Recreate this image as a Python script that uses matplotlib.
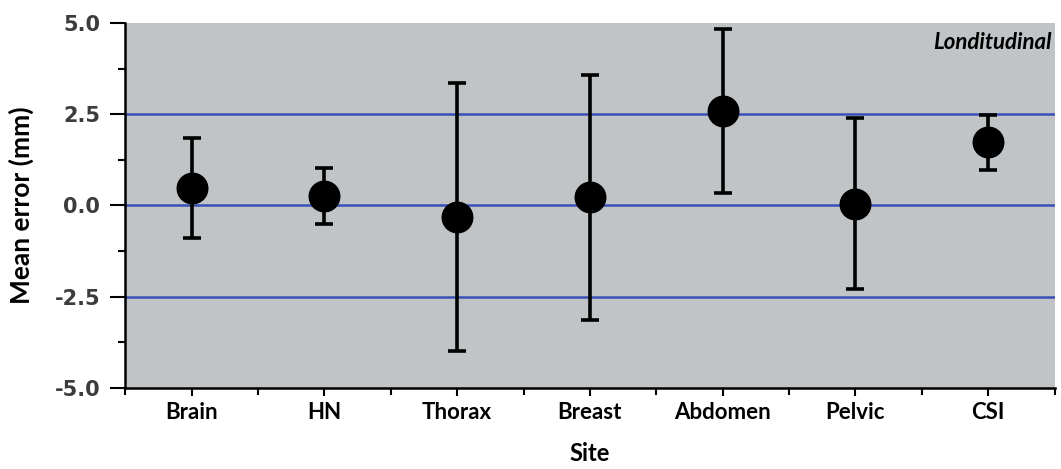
import matplotlib
matplotlib.use("Agg")
import matplotlib.pyplot as plt
from matplotlib.ticker import MultipleLocator

sites = ["Brain", "HN", "Thorax", "Breast", "Abdomen", "Pelvic", "CSI"]
mean_err = [0.49, 0.25, -0.33, 0.22, 2.58, 0.05, 1.73]
upper = [1.84, 1.02, 3.35, 3.57, 4.84, 2.39, 2.47]
lower = [-0.88, -0.52, -3.98, -3.13, 0.33, -2.28, 0.96]
ref_lines = [-2.5, 0.0, 2.5]

x = list(range(1, len(sites) + 1))
yerr = [[m - lo for m, lo in zip(mean_err, lower)],
        [up - m for m, up in zip(mean_err, upper)]]

fig = plt.figure(figsize=(10.61, 4.69), dpi=100)
ax = fig.add_axes([0.118, 0.173, 0.876, 0.778])
ax.set_facecolor("#c0c4c7")

for y in ref_lines:
    ax.axhline(y, color="#3a4fb8", lw=1.8, zorder=1)

ax.errorbar(x, mean_err, yerr=yerr, fmt="o", color="black", ms=22,
            elinewidth=2.6, capsize=6.5, capthick=2.6, zorder=3)

ax.set_xlim(0.5, 7.5)
ax.set_ylim(-5, 5)
ax.set_xticks(x)
ax.set_xticklabels(sites, fontsize=16, fontweight="bold", family="Lato")
ax.set_xticks([v + 0.5 for v in x[:-1]] + [0.5, 7.5], minor=True)
ax.yaxis.set_major_locator(MultipleLocator(2.5))
ax.yaxis.set_minor_locator(MultipleLocator(1.25))
ax.set_yticklabels([f"{v:.1f}" for v in ax.get_yticks()])
for lbl in ax.get_yticklabels():
    lbl.set_fontweight("bold")
    lbl.set_fontsize(15)
    lbl.set_color("#3c3c3c")
    lbl.set_family("DejaVu Sans")

ax.tick_params(axis="y", which="major", length=11, width=1.5, pad=7)
ax.tick_params(axis="y", which="minor", length=5, width=1.5)
ax.tick_params(axis="x", which="major", length=6, width=1.5, pad=4)
ax.tick_params(axis="x", which="minor", length=5, width=1.5)

for s in ["top", "right"]:
    ax.spines[s].set_visible(False)
for s in ["left", "bottom"]:
    ax.spines[s].set_linewidth(1.8)

ax.set_ylabel("Mean error (mm)", fontsize=19, fontweight="bold", family="Lato")
ax.yaxis.set_label_coords(-0.098, 0.5)
ax.set_xlabel("Site", fontsize=17, fontweight="bold", family="Lato")
ax.xaxis.set_label_coords(0.5, -0.148)
ax.text(0.997, 0.975, "Londitudinal", transform=ax.transAxes, ha="right",
        va="top", fontsize=16, fontstyle="italic", fontweight="bold",
        family="Lato")

fig.savefig("out.png", dpi=100)
